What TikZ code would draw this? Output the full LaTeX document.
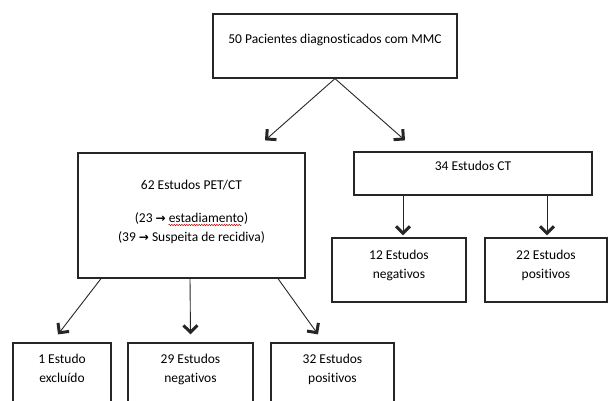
\documentclass[tikz,border=0pt]{standalone}
\usepackage{fontspec}
\setmainfont{Carlito}[Ligatures=NoCommon]
\newfontfamily\arrowfont{DejaVu Sans}
\usetikzlibrary{arrows.meta,decorations.pathmorphing}

\newcommand\flecha{{\arrowfont\bfseries\fontsize{12}{12}\selectfont →}}

\begin{document}
\begin{tikzpicture}[
  x=1pt, y=-1pt,
  every node/.style={font=\fontsize{13.5}{19}\selectfont},
  box/.style={draw=black!85, line width=1.2pt, align=center, inner sep=0pt},
  seta/.style={draw=black!85, line width=0.9pt,
    -{Straight Barb[length=7pt,width=14pt,line width=3pt]}},
  erro/.style={draw=red!85!black, line width=0.5pt, decorate,
    decoration={snake, amplitude=0.7pt, segment length=2.5pt}}
]
\clip (0,0) rectangle (610,401);
\node[box, minimum width=244, minimum height=64, text height=10pt, text depth=15pt] (pacientes) at (335,46) {50 Pacientes diagnosticados com MMC};
\node[box, minimum width=227, minimum height=125, text height=60pt, text depth=9pt] (pet) at (191.5,215.5)
  {62 Estudos PET/CT\\[14pt](23 \flecha\ estadiamento)\\(39 \flecha\ Suspeita de recidiva)};
\node[box, minimum width=238, minimum height=43, text height=10pt, text depth=17pt] (ct) at (473,173.5) {34 Estudos CT};
\node[box, minimum width=134, minimum height=64, text height=30pt, text depth=14pt] (ctneg) at (399,270) {12 Estudos\\negativos};
\node[box, minimum width=122, minimum height=64, text height=30pt, text depth=14pt] (ctpos) at (546,270) {22 Estudos\\positivos};
\node[box, minimum width=98, minimum height=64, text height=30pt, text depth=16pt] (excluido) at (62,375) {1 Estudo\\excluído};
\node[box, minimum width=125, minimum height=64, text height=30pt, text depth=16pt] (petneg) at (190.5,375) {29 Estudos\\negativos};
\node[box, minimum width=123, minimum height=64, text height=30pt, text depth=16pt] (petpos) at (332.5,375) {32 Estudos\\positivos};

% spell check mark under "estadiamento"
\draw[erro] ([xshift=-23pt,yshift=-9.5pt]pet.center) -- ([xshift=50pt,yshift=-9.5pt]pet.center);

\draw[seta] (pacientes.south) -- ([xshift=73.5pt,yshift=12pt]pet.north);
\draw[seta] (pacientes.south) -- ([xshift=-68pt,yshift=11pt]ct.north);
\draw[seta] ([xshift=-70pt]ct.south) -- ([xshift=4pt,yshift=2pt]ctneg.north);
\draw[seta] ([xshift=74pt]ct.south) -- ([xshift=1pt,yshift=2pt]ctpos.north);
\draw[seta] ([xshift=-90.5pt]pet.south) -- ([xshift=-4pt,yshift=8pt]excluido.north);
\draw[seta] ([xshift=-1.5pt]pet.south) -- ([yshift=8pt]petneg.north);
\draw[seta] ([xshift=86.5pt]pet.south) -- ([xshift=-14.5pt,yshift=8pt]petpos.north);
\end{tikzpicture}
\end{document}
